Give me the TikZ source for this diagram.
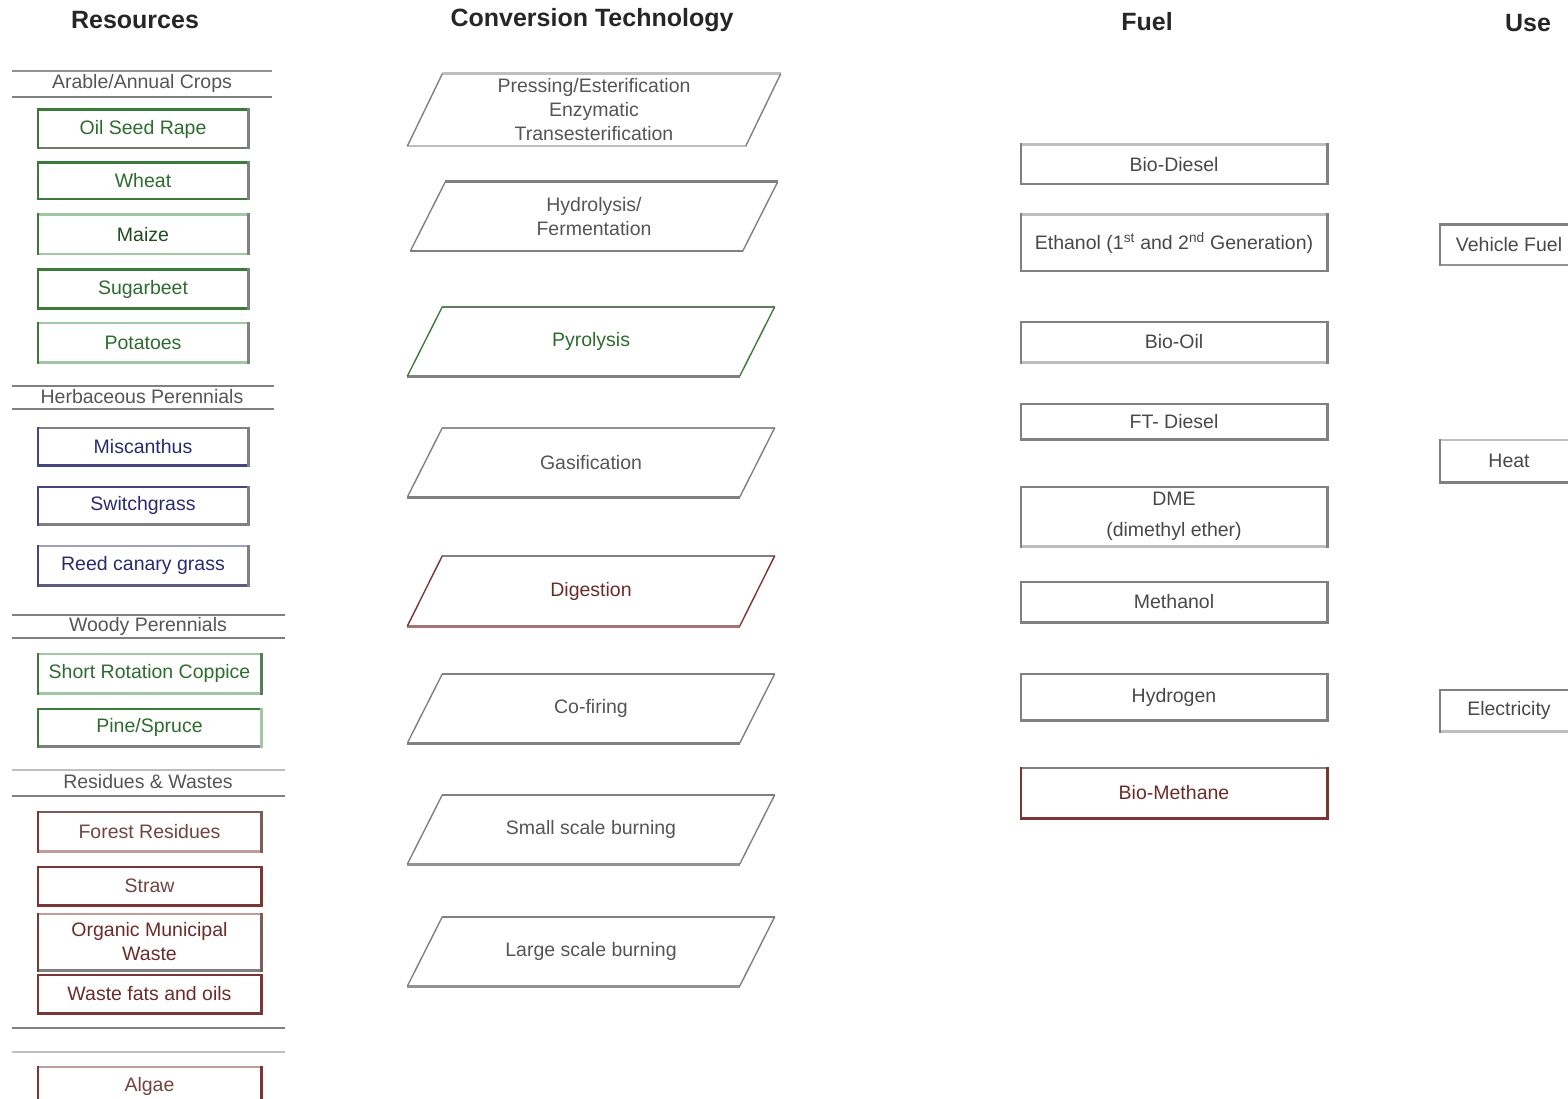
\documentclass[tikz,border=0pt]{standalone}
\usepackage{fontspec}
\setmainfont{Liberation Sans}
\usetikzlibrary{calc}
\definecolor{gA}{HTML}{3B7A3B}
\definecolor{gL}{HTML}{A3C6A3}
\definecolor{nA}{HTML}{46467E}
\definecolor{nL}{HTML}{A0A0C0}
\definecolor{mA}{HTML}{7A3636}
\definecolor{mL}{HTML}{C29C9C}
\definecolor{gr}{HTML}{808080}
\definecolor{grL}{HTML}{BEBEBE}
\definecolor{tG}{HTML}{2E6B2E}
\definecolor{tN}{HTML}{2B2B6B}
\definecolor{tM}{HTML}{6B2B2B}
\definecolor{tC}{HTML}{555555}
\definecolor{tF}{HTML}{484848}
\newcommand\edgebox[5]{%
  \draw[ew,#2] (#1.north west) -- (#1.north east);
  \draw[ew,#3] (#1.south west) -- (#1.south east);
  \draw[ew,#4] (#1.north west) -- (#1.south west);
  \draw[ew,#5] (#1.north east) -- (#1.south east);}
\newcommand\paraedge[5]{%
  \draw[pe,#2] ([xshift=17.5pt]#1.north west) -- ([xshift=17.5pt]#1.north east);
  \draw[pe,#3] ([xshift=-17.5pt]#1.south west) -- ([xshift=-17.5pt]#1.south east);
  \draw[ps,#4] ([xshift=-17.5pt]#1.south west) -- ([xshift=17.5pt]#1.north west);
  \draw[ps,#5] ([xshift=-17.5pt]#1.south east) -- ([xshift=17.5pt]#1.north east);}
\begin{document}
\begin{tikzpicture}[x=1pt,y=-1pt,
  every node/.style={inner sep=0pt, align=center},
  bodyfont/.style={font=\fontsize{19.5}{24}\selectfont},
  head/.style={font=\fontsize{25}{29}\selectfont\bfseries, text=black!85},
  cat/.style={bodyfont, text=tC},
  rbox/.style 2 args={bodyfont, minimum width=#1, minimum height=#2},
  para/.style 2 args={bodyfont, text=tC, minimum width=#1, minimum height=#2},
  ew/.style={line width=2.6pt, line cap=rect},
  pe/.style={line width=2.6pt},
  ps/.style={line width=1.4pt},
  cl/.style={line width=2.7pt}]
\useasboundingbox (0,0) rectangle (1568,1099);
\clip (0,0) rectangle (1568,1099);

% headers
\node[head] (hR) at (135,20) {Resources};
\node[head] (hC) at (592,20) {Conversion Technology};
\node[head] (hF) at (1147,22) {Fuel};
\node[head] (hU) at (1528,23) {Use};

% resource categories
\draw[cl,gr!85] (12,71) -- (272,71);
\draw[cl,gr] (12,97) -- (272,97);
\node[cat] (catA) at (142,83) {Arable/Annual Crops};
\draw[cl,gr] (12,386) -- (274,386);
\draw[cl,gr] (12,409) -- (274,409);
\node[cat] (catH) at (142,397) {Herbaceous Perennials};
\draw[cl,gr] (12,615) -- (285,615);
\draw[cl,gr] (12,638) -- (285,638);
\node[cat] (catW) at (148,626) {Woody Perennials};
\draw[cl,grL] (12,770) -- (285,770);
\draw[cl,gr] (12,796) -- (285,796);
\node[cat] (catR) at (148,782) {Residues \& Wastes};
\draw[cl,gr] (12,1028) -- (285,1028);
\draw[cl,grL] (12,1052) -- (285,1052);

% resource boxes
\node[rbox={210pt}{38pt}, text=tG] (osr) at (143,129) {Oil Seed Rape};
\node[rbox={210pt}{36pt}, text=tG] (wht) at (143,181) {Wheat};
\node[rbox={210pt}{39pt}, text=tG!70!black] (maz) at (143,234.5) {Maize};
\node[rbox={210pt}{38pt}, text=tG] (sug) at (143,289) {Sugarbeet};
\node[rbox={210pt}{39pt}, text=tG] (pot) at (143,342.5) {Potatoes};
\node[rbox={210pt}{37pt}, text=tN] (mis) at (143,446.5) {Miscanthus};
\node[rbox={210pt}{37pt}, text=tN] (swi) at (143,505.5) {Switchgrass};
\node[rbox={210pt}{39pt}, text=tN] (rcg) at (143,565.5) {Reed canary grass};
\node[rbox={223pt}{39pt}, text=tG] (src) at (149.5,673.5) {Short Rotation Coppice};
\node[rbox={223pt}{37pt}, text=tG] (pin) at (149.5,727.5) {Pine/Spruce};
\node[rbox={223pt}{39pt}, text=tM!70!gray] (frs) at (149.5,831.5) {Forest Residues};
\node[rbox={223pt}{38pt}, text=tM!70!gray] (str) at (149.5,886) {Straw};
\node[rbox={223pt}{56pt}, text=tM] (omw) at (149.5,942) {Organic Municipal\\Waste};
\node[rbox={223pt}{38pt}, text=tM] (wfo) at (149.5,994) {Waste fats and oils};
\node[rbox={223pt}{38pt}, text=tM!70!gray] (alg) at (149.5,1086) {Algae};

\edgebox{osr}{gA}{gr!70!gA}{gA}{gr}
\edgebox{wht}{gA}{gA}{gA}{gr}
\edgebox{maz}{gL}{gL}{gA}{gr}
\edgebox{sug}{gA}{gA}{gA}{gr}
\edgebox{pot}{gL}{gL}{gA}{gr}
\edgebox{mis}{gr}{nA}{nA}{gr}
\edgebox{swi}{nA}{gr}{nA}{gr}
\edgebox{rcg}{nL}{nA!60!gr}{nA}{gr}
\edgebox{src}{gL}{gL}{gA}{gA!60!gr}
\edgebox{pin}{gA}{gr}{gA}{gL}
\edgebox{frs}{mA!50!gr}{mL}{mA}{mA!50!gr}
\edgebox{str}{mA}{mA}{mA}{mA}
\edgebox{omw}{mL}{gr}{mA}{mA!50!gr}
\edgebox{wfo}{mA}{mA}{mA}{mA}
\edgebox{alg}{mL}{mL}{mA}{mA}

% conversion technologies
\node[para={338pt}{72pt}] (c1) at (594,110) {Pressing/Esterification\\Enzymatic\\Transesterification};
\node[para={332pt}{69pt}] (c2) at (594,216.5) {Hydrolysis/\\Fermentation};
\node[para={332pt}{69pt}, text=tG] (c3) at (591,341.5) {Pyrolysis};
\node[para={332pt}{69pt}] (c4) at (591,462.5) {Gasification};
\node[para={332pt}{70pt}, text=tM] (c5) at (591,591) {Digestion};
\node[para={332pt}{69pt}] (c6) at (591,708.5) {Co-firing};
\node[para={332pt}{69pt}] (c7) at (591,829.5) {Small scale burning};
\node[para={332pt}{69pt}] (c8) at (591,951.5) {Large scale burning};

\paraedge{c1}{grL}{grL}{gr}{gr}
\paraedge{c2}{gr}{gr}{gr}{gr}
\paraedge{c3}{gA!50!gr}{gr}{gA}{gA}
\paraedge{c4}{gr!70!grL}{gr}{gr}{gr}
\paraedge{c5}{gr}{mL!60!mA}{mA}{mA}
\paraedge{c6}{gr}{gr}{gr}{gr}
\paraedge{c7}{gr}{gr!70!grL}{gr}{gr}
\paraedge{c8}{gr}{gr!70!grL}{gr}{gr}

% fuels
\node[rbox={306pt}{39pt}, text=tF] (f1) at (1174,164.5) {Bio-Diesel};
\node[rbox={306pt}{56pt}, text=tF] (f2) at (1174,243) {Ethanol (1\textsuperscript{st} and 2\textsuperscript{nd} Generation)};
\node[rbox={306pt}{40pt}, text=tF] (f3) at (1174,342) {Bio-Oil};
\node[rbox={306pt}{35pt}, text=tF] (f4) at (1174,421.5) {FT- Diesel};
\node[rbox={306pt}{59pt}, text=tF] (f5) at (1174,516.5) {DME\\[7pt](dimethyl ether)};
\node[rbox={306pt}{40pt}, text=tF] (f6) at (1174,602) {Methanol};
\node[rbox={306pt}{46pt}, text=tF] (f7) at (1174,697) {Hydrogen};
\node[rbox={306pt}{50pt}, text=tM] (f8) at (1174,793) {Bio-Methane};

\edgebox{f1}{grL}{gr}{gr}{gr}
\edgebox{f2}{grL}{gr}{gr}{gr}
\edgebox{f3}{gr}{grL}{gr}{gr}
\edgebox{f4}{gr}{gr}{gr}{gr}
\edgebox{f5}{gr}{grL}{gr}{gr}
\edgebox{f6}{gr}{gr}{gr}{gr}
\edgebox{f7}{gr}{gr}{gr}{gr}
\edgebox{f8}{gr}{mA}{mA}{mA}

% uses
\node[rbox={138pt}{40pt}, text=tF] (u1) at (1509,245) {Vehicle Fuel};
\node[rbox={138pt}{42pt}, text=tF] (u2) at (1509,461) {Heat};
\node[rbox={138pt}{41pt}, text=tF] (u3) at (1509,710.5) {Electricity};

\edgebox{u1}{gr}{gr!70!grL}{gr}{gr}
\edgebox{u2}{grL}{gr}{gr}{gr}
\edgebox{u3}{gr}{grL}{gr}{gr}
\end{tikzpicture}
\end{document}
